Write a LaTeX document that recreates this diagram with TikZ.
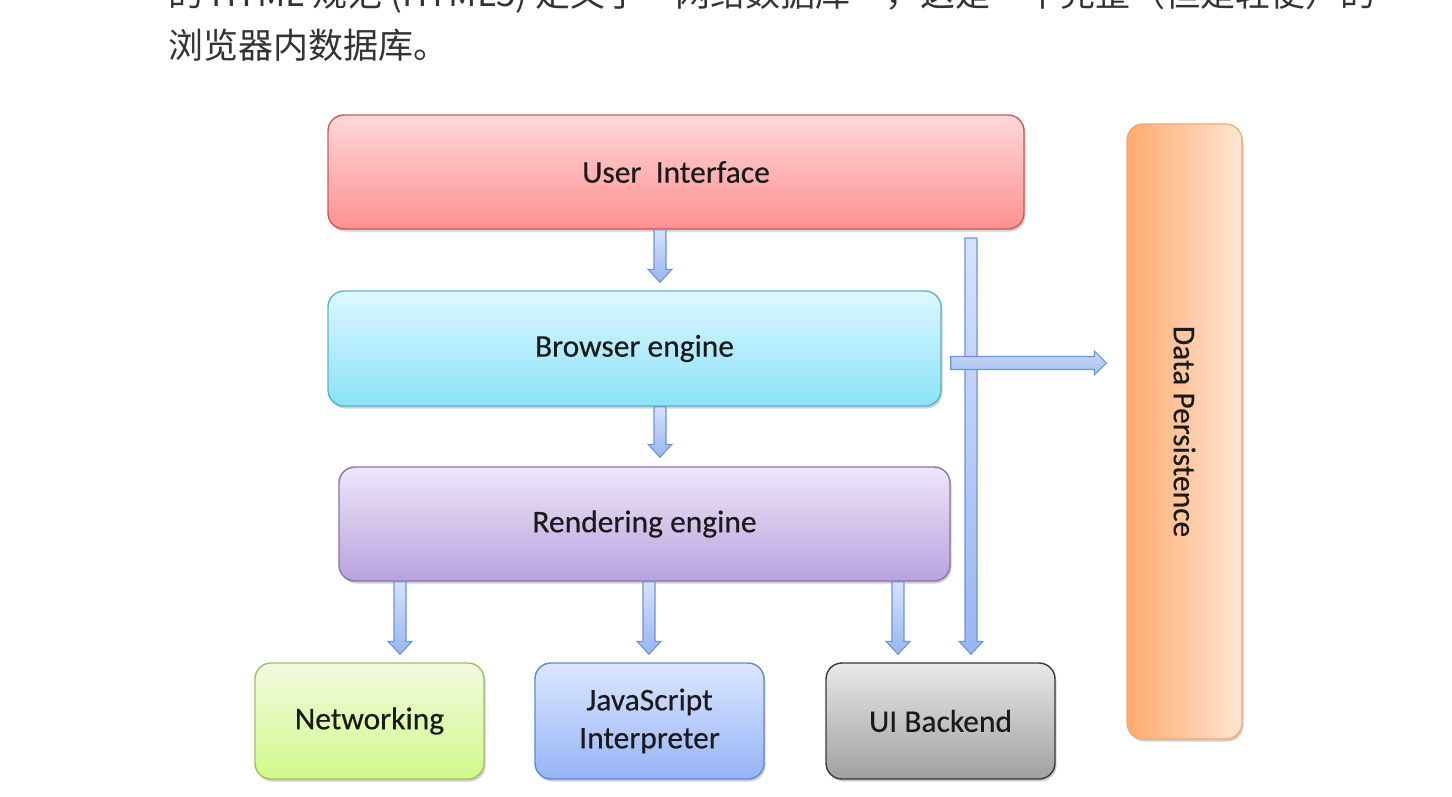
\documentclass[tikz,border=0pt]{standalone}
\usepackage{fontspec}
\setmainfont{Carlito}
\newfontfamily\boxfont{Carlito}[FakeBold=0.35]
\newfontfamily\cjk{Noto Sans CJK SC}
\usetikzlibrary{calc,shadows}
\definecolor{uiT}{HTML}{FFD8D8}\definecolor{uiB}{HTML}{FF9090}\definecolor{uiD}{HTML}{C85A58}
\definecolor{beT}{HTML}{DDF8FF}\definecolor{beB}{HTML}{8BE2F8}\definecolor{beD}{HTML}{5AB4CC}
\definecolor{reT}{HTML}{EEE6F8}\definecolor{reB}{HTML}{B9A2DE}\definecolor{reD}{HTML}{8C72B0}
\definecolor{nwT}{HTML}{F2FADF}\definecolor{nwB}{HTML}{D0FA88}\definecolor{nwD}{HTML}{A0C060}
\definecolor{jsT}{HTML}{DCE7FF}\definecolor{jsB}{HTML}{95B4F6}\definecolor{jsD}{HTML}{5F8AD0}
\definecolor{ubT}{HTML}{E8E8E8}\definecolor{ubB}{HTML}{A0A0A0}\definecolor{ubD}{HTML}{383838}
\definecolor{dpL}{HTML}{FFAA6E}\definecolor{dpR}{HTML}{FFE5D3}\definecolor{dpD}{HTML}{F2A874}
\definecolor{arT}{HTML}{D5E2FA}\definecolor{arB}{HTML}{98B6F2}\definecolor{arD}{HTML}{6F93D8}
\definecolor{txt}{HTML}{1A1A1A}\definecolor{topc}{HTML}{333333}
\newcommand\dnarrow[2]{%
  \draw[barrow] let \p1=#1, \p2=#2 in
   (\x1-6pt,\y1) -- (\x1-6pt,\y2+13pt) -- (\x1-12pt,\y2+13pt) -- (\x1,\y2)
   -- (\x1+12pt,\y2+13pt) -- (\x1+6pt,\y2+13pt) -- (\x1+6pt,\y1) -- cycle;}
\newcommand\rtarrow[2]{%
  \draw[barrow,top color=arT!80!arB,bottom color=arB!80!arT] let \p1=#1, \p2=#2 in
   (\x1,\y1+6.5pt) -- (\x2-12pt,\y1+6.5pt) -- (\x2-12pt,\y1+12pt) -- (\x2,\y1)
   -- (\x2-12pt,\y1-12pt) -- (\x2-12pt,\y1-6.5pt) -- (\x1,\y1-6.5pt) -- cycle;}
\begin{document}
\begin{tikzpicture}[x=1pt,y=-1pt,
  box/.style={rounded corners=16pt, line width=1.4pt, align=center,
    font=\boxfont\fontsize{31.5}{38}\selectfont, text=txt,
    drop shadow={shadow xshift=1.5pt, shadow yshift=-2.5pt, opacity=0.3, fill=black!60}},
  toptext/.style={anchor=base west, inner sep=0, font=\cjk\fontsize{35}{35}\selectfont, text=topc},
  barrow/.style={draw=arD, line width=1.1pt, top color=arT, bottom color=arB, line join=miter}]
\useasboundingbox (0,0) rectangle (1452,796);
\clip (0,0) rectangle (1452,796);
\fill[white] (0,0) rectangle (1452,796);
% top text
\node[toptext] (t1) at (168,6)
  {的 HTML 规范 (HTML5) 定义了“网络数据库”，这是一个完整（但是轻便）的};
\node[toptext] (t2) at (168,58)
  {浏览器内数据库。};
% boxes
\node[box, minimum width=696pt, minimum height=114pt, top color=uiT, bottom color=uiB, draw=uiD] (ui) at (676,172) {User\ \ Interface};
\node[box, minimum width=613pt, minimum height=115pt, top color=beT, bottom color=beB, draw=beD] (be) at (634.5,348.5) {Browser engine};
\node[box, minimum width=611pt, minimum height=114pt, top color=reT, bottom color=reB, draw=reD] (re) at (644.5,524) {Rendering engine};
\node[box, minimum width=229pt, minimum height=116pt, top color=nwT, bottom color=nwB, draw=nwD] (nw) at (369.5,721) {Networking};
\node[box, minimum width=229pt, minimum height=116pt, top color=jsT, bottom color=jsB, draw=jsD] (js) at (649.5,721) {JavaScript\\Interpreter};
\node[box, minimum width=229pt, minimum height=116pt, top color=ubT, bottom color=ubB, draw=ubD] (ub) at (940.5,721) {UI Backend};
\node[box, minimum width=115pt, minimum height=615pt, left color=dpL, right color=dpR, draw=dpD, line width=1.2pt] (dp) at (1184.5,431.5) {\rotatebox{-90}{Data Persistence}};
% connectors
\coordinate (vtop) at (971,238);
\dnarrow{(ui.south -| 660,0)}{($(be.north -| 660,0)+(0,-8)$)}
\dnarrow{(be.south -| 660,0)}{($(re.north -| 660,0)+(0,-9)$)}
\dnarrow{(re.south -| 400,0)}{($(nw.north -| 400,0)+(0,-8)$)}
\dnarrow{(re.south -| 649,0)}{($(js.north -| 649,0)+(0,-8)$)}
\dnarrow{(re.south -| 898,0)}{($(ub.north -| 898,0)+(0,-8)$)}
\dnarrow{(vtop)}{($(ub.north -| 971,0)+(0,-8)$)}
\rtarrow{($(be.east |- 0,363)+(9,0)$)}{($(dp.west |- 0,363)+(-20,0)$)}
\end{tikzpicture}
\end{document}
